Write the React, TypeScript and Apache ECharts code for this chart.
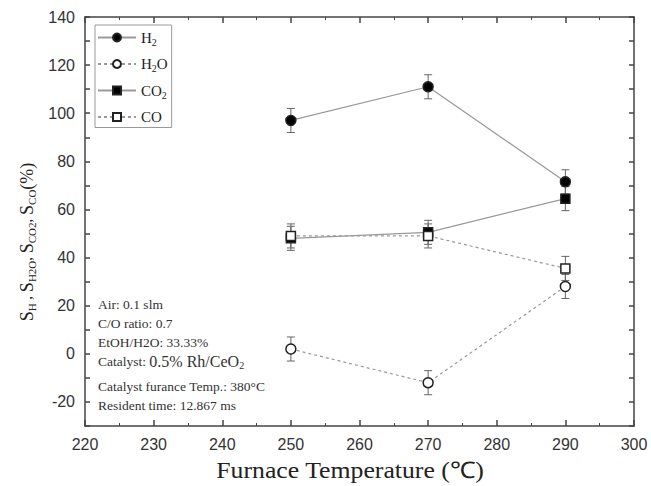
import React, { useEffect, useRef } from "react";
import * as echarts from "echarts";

const temperatures = [250, 270, 290];
const h2Values = [97, 111, 71.5];
const h2oValues = [2, -12, 28];
const co2Values = [48, 50.5, 64.5];
const coValues = [49, 49, 35.5];
const h2Err = [5, 5, 5];
const h2oErr = [5, 5, 5];
const co2Err = [5, 5, 5];
const coErr = [5, 5, 5];
const annotations = [
  "Air: 0.1 slm",
  "C/O ratio: 0.7",
  "EtOH/H2O: 33.33%",
  "Catalyst: {big|0.5% Rh/CeO}{sub|2}",
  "Catalyst furance Temp.: 380°C",
  "Resident time: 12.867 ms",
];
const annotationYs = [304, 323, 342, 361, 386, 405];

const serif = "Liberation Serif";
const sans = "Liberation Sans";

function pairs(vals: number[]) {
  return temperatures.map((t, i) => [t, vals[i]]);
}
function errs(vals: number[], e: number[]) {
  return temperatures.map((t, i) => [t, vals[i] - e[i], vals[i] + e[i]]);
}

export default function App() {
  const ref = useRef<HTMLDivElement>(null);
  useEffect(() => {
    const chart = echarts.init(ref.current!, null, { renderer: "svg" });
    const errSeries = (data: number[][], name: string) => ({
      type: "custom",
      name: name + "_err",
      z: 1,
      silent: true,
      data,
      renderItem: (params: any, api: any) => {
        const x = api.value(0);
        const lo = api.coord([x, api.value(1)]);
        const hi = api.coord([x, api.value(2)]);
        const w = 4;
        const st = { stroke: "#666", lineWidth: 1 };
        return {
          type: "group",
          children: [
            { type: "line", shape: { x1: lo[0], y1: lo[1], x2: hi[0], y2: hi[1] }, style: st },
            { type: "line", shape: { x1: lo[0] - w, y1: lo[1], x2: lo[0] + w, y2: lo[1] }, style: st },
            { type: "line", shape: { x1: hi[0] - w, y1: hi[1], x2: hi[0] + w, y2: hi[1] }, style: st },
          ],
        };
      },
    });
    const lineSeries = (name: string, vals: number[], symbol: string, dashed: boolean, filled: boolean) => ({
      type: "line",
      name,
      z: 3,
      data: pairs(vals),
      symbol,
      symbolSize: symbol === "rect" ? 9 : 10,
      lineStyle: { color: "#999", width: 1.2, type: dashed ? [3, 3] : "solid" },
      itemStyle: { color: filled ? "#000" : "#fff", borderColor: "#222", borderWidth: 1.5 },
    });
    const legendRich = {
      n: { fontFamily: serif, fontSize: 15, color: "#222" },
      s: { fontFamily: serif, fontSize: 10, color: "#222", verticalAlign: "bottom", padding: [9, 0, 0, 0] },
    };
    const legendNames: Record<string, string> = {
      H2: "{n|H}{s|2}",
      H2O: "{n|H}{s|2}{n|O}",
      CO2: "{n|CO}{s|2}",
      CO: "{n|CO}",
    };
    const axisLine = { onZero: false, lineStyle: { color: "#444", width: 1.5 } };
    chart.setOption({
      animation: false,
      grid: { left: 85, right: 17, top: 17, bottom: 60 },
      legend: {
        left: 95,
        top: 25,
        orient: "vertical",
        data: ["H2", "H2O", "CO2", "CO"],
        itemWidth: 38,
        itemHeight: 10,
        itemGap: 9.5,
        padding: [5, 4, 3, 2],
        borderColor: "#999",
        borderWidth: 1,
        formatter: (n: string) => legendNames[n],
        textStyle: { rich: legendRich },
      },
      xAxis: [
        {
          type: "value",
          min: 220,
          max: 300,
          interval: 10,
          axisLine,
          axisTick: { inside: true, length: 6, lineStyle: { color: "#444", width: 1.5 } },
          minorTick: { show: true, splitNumber: 2, length: 3, lineStyle: { color: "#444" } },
          splitLine: { show: false },
          axisLabel: { fontFamily: sans, fontSize: 16, color: "#333", margin: 10 },
        },
        {
          type: "value",
          position: "top",
          min: 220,
          max: 300,
          interval: 10,
          axisLine,
          axisTick: { inside: true, length: 6, lineStyle: { color: "#444", width: 1.5 } },
          minorTick: { show: true, splitNumber: 2, length: 3, lineStyle: { color: "#444" } },
          splitLine: { show: false },
          axisLabel: { show: false },
        },
      ],
      yAxis: [
        {
          type: "value",
          min: -30,
          max: 140,
          interval: 10,
          axisLine: { show: true, ...axisLine },
          axisTick: { inside: true, length: 5, lineStyle: { color: "#444", width: 1.5 } },
          splitLine: { show: false },
          axisLabel: {
            fontFamily: sans,
            fontSize: 16,
            color: "#333",
            margin: 10,
            formatter: (v: number) => (v % 20 === 0 ? String(v) : ""),
          },
        },
        {
          type: "value",
          position: "right",
          min: -30,
          max: 140,
          interval: 10,
          axisLine: { show: true, ...axisLine },
          axisTick: { inside: true, length: 5, lineStyle: { color: "#444", width: 1.5 } },
          splitLine: { show: false },
          axisLabel: { show: false },
        },
      ],
      graphic: [
        ...annotations.map((t, i) => ({
          type: "text",
          x: 98,
          y: annotationYs[i],
          style: {
            text: t,
            fontFamily: serif,
            fontSize: 13.5,
            fill: "#333",
            verticalAlign: "middle",
            rich: {
              big: { fontFamily: serif, fontSize: 16, fill: "#333" },
              sub: { fontFamily: serif, fontSize: 10, fill: "#333", verticalAlign: "bottom", padding: [9, 0, 0, 0] },
            },
          },
        })),
        {
          type: "text",
          x: 350,
          y: 470,
          scaleX: 1.12,
          style: {
            text: "Furnace Temperature (℃)",
            fontFamily: serif,
            fontSize: 23,
            fill: "#222",
            align: "center",
            verticalAlign: "middle",
          },
        },
        {
          type: "text",
          x: 27,
          y: 242,
          rotation: Math.PI / 2,
          style: {
            text: "{s|S}{b|H}{n| , }{s|S}{b|H2O}{n|, }{s|S}{b|CO2}{n|, }{s|S}{b|CO}{s|(%)}",
            align: "center",
            verticalAlign: "middle",
            rich: {
              s: { fontFamily: serif, fontSize: 18, fill: "#222" },
              n: { fontFamily: serif, fontSize: 15, fill: "#222" },
              b: { fontFamily: serif, fontSize: 11, fill: "#222", verticalAlign: "bottom", padding: [10, 0, 0, 0] },
            },
          },
        },
      ],
      series: [
        errSeries(errs(h2Values, h2Err), "H2"),
        errSeries(errs(h2oValues, h2oErr), "H2O"),
        errSeries(errs(co2Values, co2Err), "CO2"),
        errSeries(errs(coValues, coErr), "CO"),
        lineSeries("H2", h2Values, "circle", false, true),
        lineSeries("H2O", h2oValues, "circle", true, false),
        lineSeries("CO2", co2Values, "rect", false, true),
        lineSeries("CO", coValues, "rect", true, false),
      ],
    });
    return () => chart.dispose();
  }, []);
  return <div ref={ref} style={{ position: "absolute", left: 0, top: 0, width: 651, height: 486 }} />;
}
